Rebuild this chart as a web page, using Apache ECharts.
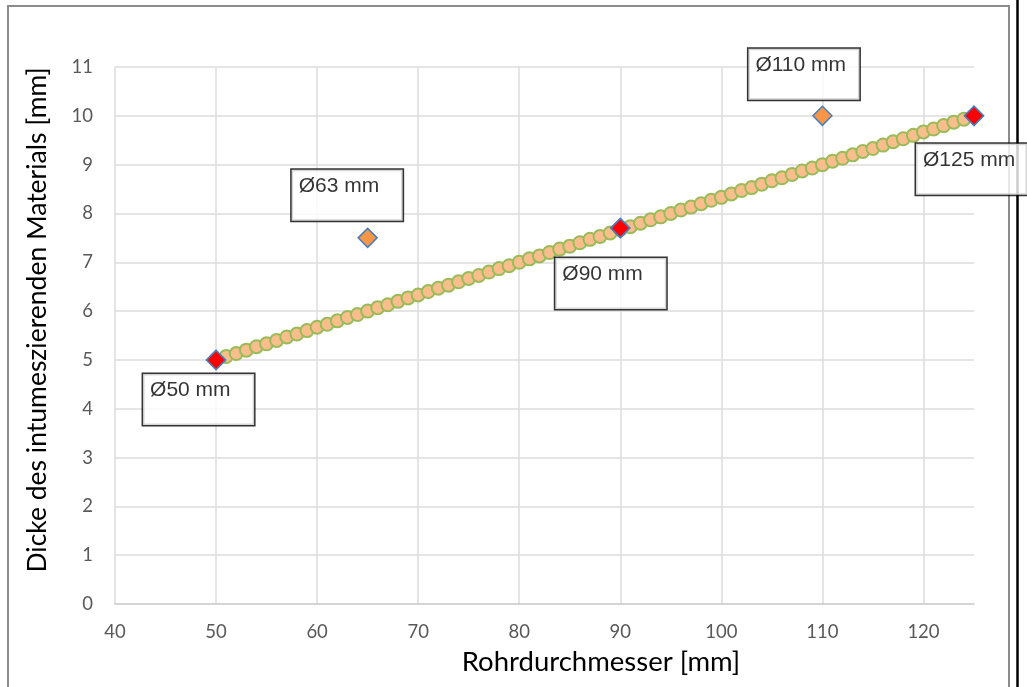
<!DOCTYPE html>
<html>
<head>
<meta charset="utf-8">
<script src="https://cdn.jsdelivr.net/npm/echarts@6/dist/echarts.min.js"></script>
<style>
html,body{margin:0;padding:0;background:#fff;}
#main{width:1027px;height:687px;}
</style>
</head>
<body>
<div id="main"></div>
<script>
// ---- data ----
const measuredX = [50, 65, 90, 110, 125];
const measuredY = [5, 7.5, 7.7, 10, 10];
const measuredLabels = ['Ø50 mm', 'Ø63 mm', 'Ø90 mm', 'Ø110 mm', 'Ø125 mm'];
const highlightX = [50, 90, 125];
const highlightY = [5, 7.7, 10];
const fitX = [50,51,52,53,54,55,56,57,58,59,60,61,62,63,64,65,66,67,68,69,70,71,72,73,74,75,76,77,78,79,80,81,82,83,84,85,86,87,88,89,90,91,92,93,94,95,96,97,98,99,100,101,102,103,104,105,106,107,108,109,110,111,112,113,114,115,116,117,118,119,120,121,122,123,124,125];
const fitY = [5.00,5.07,5.13,5.20,5.27,5.33,5.40,5.47,5.53,5.60,5.67,5.73,5.80,5.87,5.93,6.00,6.07,6.13,6.20,6.27,6.33,6.40,6.47,6.53,6.60,6.67,6.73,6.80,6.87,6.93,7.00,7.07,7.13,7.20,7.27,7.33,7.40,7.47,7.53,7.60,7.67,7.73,7.80,7.87,7.93,8.00,8.07,8.13,8.20,8.27,8.33,8.40,8.47,8.53,8.60,8.67,8.73,8.80,8.87,8.93,9.00,9.07,9.13,9.20,9.27,9.33,9.40,9.47,9.53,9.60,9.67,9.73,9.80,9.87,9.93,10.00];
const xTitle = 'Rohrdurchmesser [mm]';
const yTitle = 'Dicke des intumeszierenden Materials [mm]';

// ---- layout (label box placement relative to each point) ----
const labelBoxPos = [[-66, 21], [-69, -61], [-58, 37], [-67, -60], [-51, 35]];

const zip = (xs, ys) => xs.map((x, i) => [x, ys[i]]);
const tickFont = 'Lato, "Open Sans", sans-serif';

const chart = echarts.init(document.getElementById('main'), null, {renderer: 'canvas'});
chart.setOption({
  animation: false,
  backgroundColor: '#fff',
  grid: {left: 115, right: 53, top: 67, bottom: 83, containLabel: false},
  xAxis: {
    type: 'value', min: 40, max: 125, interval: 10,
    axisLine: {show: true, lineStyle: {color: '#c8c8c8', width: 1.5}},
    axisTick: {show: false},
    axisLabel: {color: '#595959', fontSize: 18.5, fontFamily: tickFont, margin: 19, showMaxLabel: false},
    splitLine: {show: true, showMaxLine: false, lineStyle: {color: '#dcdcdc', width: 1.5}}
  },
  yAxis: {
    type: 'value', min: 0, max: 11, interval: 1,
    axisLine: {show: false},
    axisTick: {show: false},
    axisLabel: {color: '#595959', fontSize: 18.5, fontFamily: tickFont, margin: 22},
    splitLine: {show: true, showMinLine: false, lineStyle: {color: '#dcdcdc', width: 1.5}}
  },
  graphic: [
    {type: 'rect', z: 0, shape: {x: 8, y: 6, width: 1001, height: 700}, style: {fill: 'none', stroke: '#8c8c8c', lineWidth: 2}},
    {type: 'line', z: 0, shape: {x1: 1017.5, y1: 0, x2: 1017.5, y2: 687}, style: {stroke: '#000', lineWidth: 2.5}},
    {type: 'text', z: 1, x: 601, y: 662, style: {text: xTitle, font: '27.5px Lato, sans-serif', fill: '#000', textAlign: 'center', textVerticalAlign: 'middle'}},
    {type: 'text', z: 1, x: 37, y: 320, rotation: Math.PI / 2, style: {text: yTitle, font: '26.5px Lato, sans-serif', fill: '#000', textAlign: 'center', textVerticalAlign: 'middle'}}
  ],
  series: [
    {
      type: 'scatter', z: 2, symbol: 'circle', symbolSize: 13,
      itemStyle: {color: '#F9BE8C', borderColor: '#9BBB59', borderWidth: 2, opacity: 1},
      data: zip(fitX, fitY)
    },
    {
      type: 'scatter', z: 3, symbol: 'diamond', symbolSize: 19,
      itemStyle: {color: '#F79646', borderColor: '#4A7EBB', borderWidth: 1.5, opacity: 1},
      data: zip(measuredX, measuredY)
    },
    {
      type: 'scatter', z: 4, symbol: 'diamond', symbolSize: 19,
      itemStyle: {color: '#FF0000', borderColor: '#4A7EBB', borderWidth: 1.5, opacity: 1},
      data: zip(highlightX, highlightY)
    },
    {
      type: 'scatter', z: 10, symbol: 'rect', symbolSize: 14, silent: true,
      itemStyle: {color: 'transparent', borderWidth: 0},
      data: measuredX.map((x, i) => ({
        value: [x, measuredY[i]],
        label: {
          show: true,
          position: labelBoxPos[i],
          formatter: measuredLabels[i],
          align: 'left', verticalAlign: 'top',
          width: 104, height: 46,
          padding: [5, 0, 0, 7],
          backgroundColor: '#fff',
          borderColor: '#000', borderWidth: 1.5,
          color: '#000',
          fontSize: 21,
          fontFamily: '"Liberation Sans", Arial, sans-serif',
          lineHeight: 23
        }
      }))
    }
  ]
});
</script>
</body>
</html>
